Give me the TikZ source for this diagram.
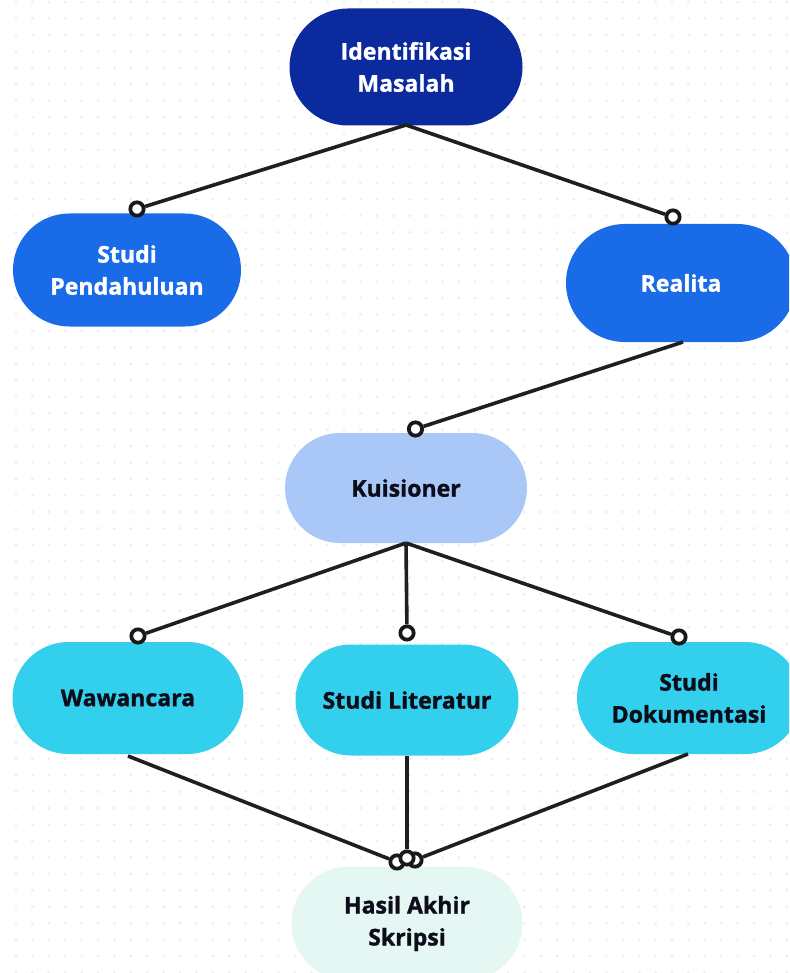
\documentclass[tikz,border=0pt]{standalone}
\usepackage{fontspec}
\setmainfont{Open Sans}[BoldFont={* Bold}, BoldFeatures={FakeBold=1.3}]
\definecolor{cDark}{HTML}{0A2A9E}
\definecolor{cMid}{HTML}{1A6BE8}
\definecolor{cLight}{HTML}{A9C8F8}
\definecolor{cCyan}{HTML}{33D0EE}
\definecolor{cPale}{HTML}{E4F7F3}
\definecolor{cText}{HTML}{0D0D1A}
\definecolor{cDot}{HTML}{EDEDED}
\tikzset{
  stad/.style={draw=none, align=center, font=\bfseries\fontsize{17.3}{24}\selectfont, inner sep=0pt},
  pin/.style={circle, draw=black!90, fill=white, line width=2.8pt, minimum size=10pt, inner sep=0pt},
  link/.style={draw=black!88, line width=2.7pt},
}
\begin{document}
\begin{tikzpicture}[x=0.75pt,y=-0.75pt]
\useasboundingbox[fill=white] (0,0) rectangle (789,973);
\begin{scope}
\clip (0,0) rectangle (789,973);
\foreach \i in {0,...,48}{
  \foreach \j in {0,...,59}{
    \fill[cDot] (16+16.4*\i, 2+16.45*\j) circle (1.1pt);
  }
}
% nodes
\node[stad, fill=cDark, text=white, minimum width=174.75pt, minimum height=87.75pt, rounded corners=43.8pt] (ident) at (406,67) {Identifikasi\\Masalah};
\node[stad, fill=cMid, text=white, minimum width=171pt, minimum height=84.75pt, rounded corners=42.3pt] (pend) at (127,270) {Studi\\Pendahuluan};
\node[stad, fill=cMid, text=white, minimum width=172.5pt, minimum height=88.5pt, rounded corners=44.2pt] (real) at (681,283) {Realita};
\node[stad, fill=cLight, text=cText, minimum width=181.5pt, minimum height=82.5pt, rounded corners=41.2pt] (kuis) at (406,488) {Kuisioner};
\node[stad, fill=cCyan, text=cText, minimum width=173.25pt, minimum height=84pt, rounded corners=42pt] (waw) at (128,698) {Wawancara};
\node[stad, fill=cCyan, text=cText, minimum width=167.25pt, minimum height=83.25pt, rounded corners=41.6pt] (lit) at (407,700) {Studi Literatur};
\node[stad, fill=cCyan, text=cText, minimum width=168pt, minimum height=84pt, rounded corners=42pt] (dok) at (689,698) {Studi\\Dokumentasi};
\node[stad, fill=cPale, text=cText, minimum width=173.25pt, minimum height=85pt, rounded corners=42.5pt] (hasil) at (407,923.5) {Hasil Akhir\\Skripsi};
% pins
\node[pin] (p1) at (137,209) {};
\node[pin] (p2) at (673,217) {};
\node[pin] (p3) at (415.5,429) {};
\node[pin] (p4) at (138,636) {};
\node[pin] (p5) at (407,633) {};
\node[pin] (p6) at (679,637) {};
\node[pin] (p7) at (397,862) {};
\node[pin] (p8) at (415,860) {};
\node[pin] (p9) at (407,858) {};
% links
\coordinate (identS) at (406,125);
\coordinate (realS) at (683,342);
\coordinate (kuisS) at (406,543);
\coordinate (wawS) at (128,756);
\coordinate (litS) at (407,756);
\coordinate (dokS) at (688,754);
\draw[link] (identS) -- (p1);
\draw[link] (identS) -- (p2);
\draw[link] (realS) -- (p3);
\draw[link] (kuisS) -- (p4);
\draw[link] (kuisS) -- (p5);
\draw[link] (kuisS) -- (p6);
\draw[link] (wawS) -- (p7);
\draw[link] (dokS) -- (p8);
\draw[link] (litS) -- (p9);
\end{scope}
\end{tikzpicture}
\end{document}
